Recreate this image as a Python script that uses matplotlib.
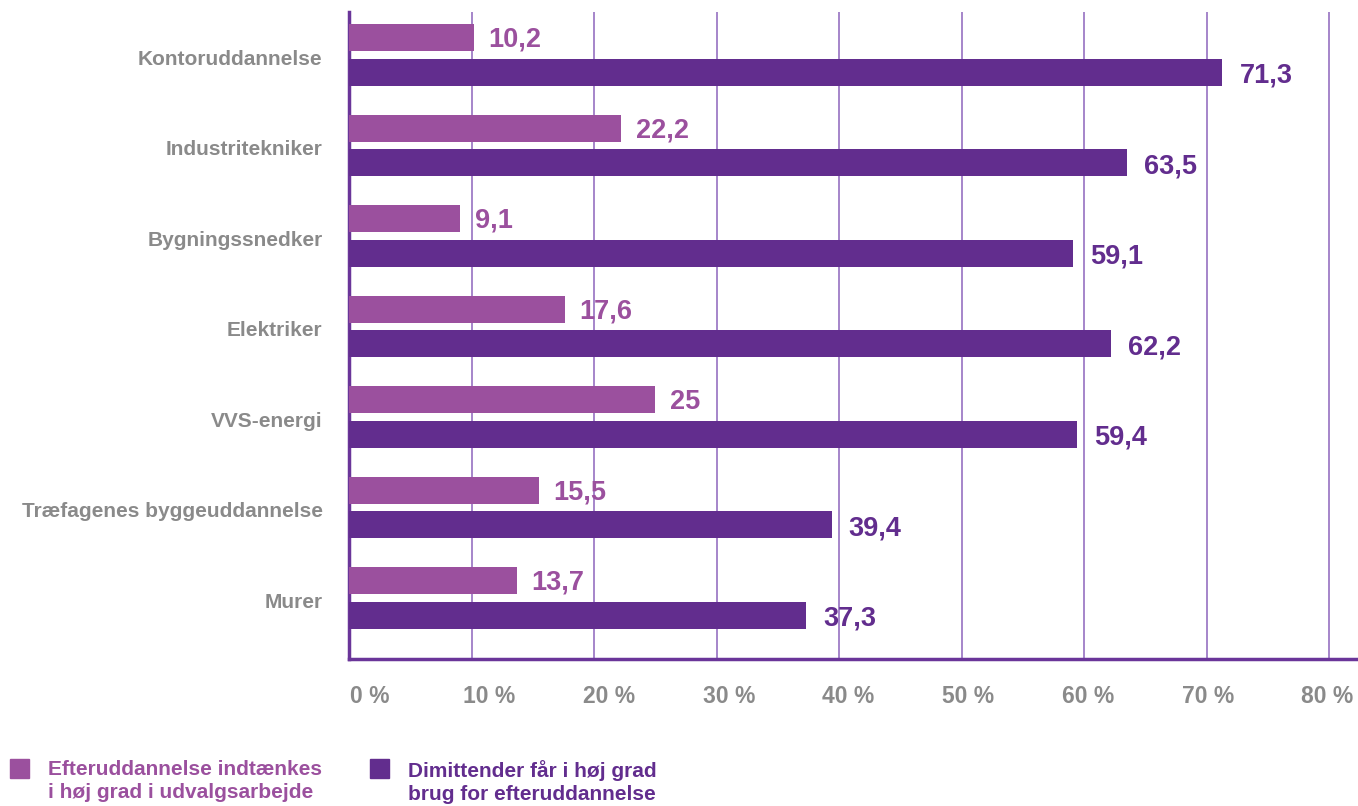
import numpy as np
import matplotlib
matplotlib.use('Agg')
import matplotlib.pyplot as plt
from matplotlib.patches import Rectangle

plt.rcParams['font.family'] = ['Liberation Sans', 'DejaVu Sans']
plt.rcParams['font.weight'] = 'bold'

categories = ['Kontoruddannelse', 'Industritekniker', 'Bygningssnedker', 'Elektriker',
              'VVS-energi', 'Træfagenes byggeuddannelse', 'Murer']
efteruddannelse_indtaenkes = [10.2, 22.2, 9.1, 17.6, 25, 15.5, 13.7]
dimittender_brug = [71.3, 63.5, 59.1, 62.2, 59.4, 39.4, 37.3]
x_ticks = [0, 10, 20, 30, 40, 50, 60, 70, 80]
legend_labels = ['Efteruddannelse indtænkes\ni høj grad i udvalgsarbejde',
                 'Dimittender får i høj grad\nbrug for efteruddannelse']

pink = '#9B509E'
purple = '#622D8E'
grid_col = '#9E7CC6'
spine_col = '#6A3599'
grey = '#8A8A8A'

def fmt(v):
    s = ('%.1f' % v).rstrip('0').rstrip('.')
    return s.replace('.', ',')

fig = plt.figure(figsize=(13.58, 8.06), dpi=100)
ax = fig.add_axes([349 / 1358, 147 / 806, (1356 - 349) / 1358, (659 - 12) / 806])

y = np.arange(len(categories))
h = 0.295
off = 0.19
ax.barh(y - off, efteruddannelse_indtaenkes, height=h, color=pink, zorder=3)
ax.barh(y + off, dimittender_brug, height=h, color=purple, zorder=3)

for yi, v in zip(y, efteruddannelse_indtaenkes):
    ax.text(v + 1.2, yi - off + 0.02, fmt(v), color=pink, fontsize=19.5,
            fontweight='bold', va='center', ha='left')
for yi, v in zip(y, dimittender_brug):
    ax.text(v + 1.4, yi + off + 0.04, fmt(v), color=purple, fontsize=19.5,
            fontweight='bold', va='center', ha='left')

ax.set_xlim(0, 82.2)
ax.set_ylim(6.674, -0.475)

for t in x_ticks[1:]:
    ax.axvline(t, color=grid_col, lw=1.3, zorder=1)

ax.set_yticks(y + 0.025)
ax.set_yticklabels(categories, fontsize=15, color=grey, fontweight='bold')
ax.tick_params(axis='y', length=0, pad=19)
ax.set_xticks([])

# tick labels are spread evenly from the left spine to the right end
for k, t in enumerate(x_ticks):
    xc = 1.7 + k * 9.77
    ax.text(xc, -0.058, '%d %%' % t, transform=ax.get_xaxis_transform(),
            ha='center', va='center', fontsize=16.5, color=grey, fontweight='bold')

for s in ['top', 'right']:
    ax.spines[s].set_visible(False)
ax.spines['left'].set_color(spine_col)
ax.spines['bottom'].set_color(spine_col)
ax.spines['left'].set_linewidth(2.5)
ax.spines['bottom'].set_linewidth(2.5)

# legend
cols = [pink, purple]
xs = [10, 370]
for lab, c, x0 in zip(legend_labels, cols, xs):
    fig.patches.append(Rectangle((x0 / 1358, (806 - 778) / 806), 19 / 1358, 19 / 806,
                                 transform=fig.transFigure, color=c))
    fig.text((x0 + 38) / 1358, (806 - 760) / 806, lab, color=c, fontsize=15,
             fontweight='bold', va='top', ha='left', linespacing=1.3)

fig.savefig('out.png', dpi=100)
